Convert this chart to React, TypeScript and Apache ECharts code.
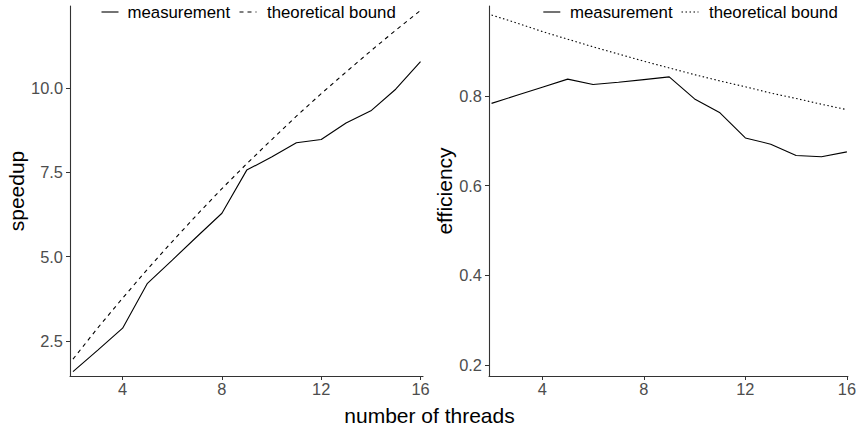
import React, { useEffect, useRef } from "react";
import * as echarts from "echarts";

const threads = [2, 3, 4, 5, 6, 7, 8, 9, 10, 11, 12, 13, 14, 15, 16];
const speedupMeasured = [1.59, 2.23, 2.88, 4.21, 4.9, 5.6, 6.29, 7.57, 7.96, 8.38, 8.48, 8.97, 9.33, 9.97, 10.79];
const speedupBound = [1.96, 2.89, 3.77, 4.63, 5.45, 6.25, 7.02, 7.76, 8.47, 9.17, 9.84, 10.48, 11.11, 11.72, 12.31];
const efficiencyMeasured = [0.783, 0.801, 0.819, 0.837, 0.825, 0.83, 0.836, 0.842, 0.793, 0.762, 0.706, 0.692, 0.667, 0.664, 0.675];
const efficiencyBound = [0.98, 0.962, 0.943, 0.926, 0.909, 0.893, 0.877, 0.862, 0.847, 0.833, 0.82, 0.806, 0.794, 0.781, 0.769];
const xTicks = [4, 8, 12, 16];
const speedupTicks = [2.5, 5.0, 7.5, 10.0];
const efficiencyTicks = [0.2, 0.4, 0.6, 0.8];
const legendNames = ["measurement", "theoretical bound"];

const FONT = "'Liberation Sans', Arial, Helvetica, sans-serif";
const AXIS_COLOR = "#333333";
const LABEL_COLOR = "#4d4d4d";
const DASHED = [4, 4];
const DOTTED = [1.5, 2.5];

function pairs(xs: number[], ys: number[]) {
  return xs.map((x, i) => [x, ys[i]]);
}

function legendItem(x: number, textX: number, dash: any, text: string) {
  return [
    {
      type: "line",
      shape: { x1: x, y1: 12, x2: x + 17, y2: 12 },
      style: { stroke: "#000", lineWidth: 1.1, lineDash: dash },
      silent: true,
    },
    {
      type: "text",
      x: textX,
      y: 12,
      style: {
        text,
        fill: "#000",
        font: `16.8px ${FONT}`,
        textVerticalAlign: "middle",
        verticalAlign: "middle",
      },
      silent: true,
    },
  ];
}

export default function App() {
  const ref = useRef<HTMLDivElement>(null);
  useEffect(() => {
    if (!ref.current) return;
    const chart = echarts.init(ref.current, undefined, { renderer: "svg" });
    const xAxisBase = (min: number, max: number, gridIndex: number) => ({
      type: "value",
      gridIndex,
      min,
      max,
      axisLine: { show: true, lineStyle: { color: AXIS_COLOR, width: 1.1 } },
      axisTick: { show: true, customValues: xTicks, length: 4, lineStyle: { color: AXIS_COLOR, width: 1 } },
      axisLabel: { customValues: xTicks, color: LABEL_COLOR, fontSize: 16.4, fontFamily: FONT, margin: 5 },
      splitLine: { show: false },
    });
    const yAxisBase = (
      min: number,
      max: number,
      gridIndex: number,
      ticks: number[],
      name: string,
      nameGap: number,
      digits: number
    ) => ({
      type: "value",
      gridIndex,
      min,
      max,
      name,
      nameLocation: "middle",
      nameGap,
      nameTextStyle: { color: "#000", fontSize: 21, fontFamily: FONT },
      axisLine: { show: true, lineStyle: { color: AXIS_COLOR, width: 1.1 } },
      axisTick: { show: true, customValues: ticks, length: 4, lineStyle: { color: AXIS_COLOR, width: 1 } },
      axisLabel: {
        customValues: ticks,
        color: LABEL_COLOR,
        fontSize: 16.4,
        fontFamily: FONT,
        margin: 7,
        formatter: (v: number) => v.toFixed(digits),
      },
      splitLine: { show: false },
    });
    const lineSeries = (name: string, idx: number, data: number[][], type: any) => ({
      type: "line",
      name,
      xAxisIndex: idx,
      yAxisIndex: idx,
      data,
      symbol: "none",
      showSymbol: false,
      lineStyle: { color: "#000", width: 1.1, type },
      itemStyle: { color: "#000" },
    });

    const makeLegend = (pos: number[][], dash: any) => {
      const els: any[] = [];
      legendNames.forEach((name, i) => {
        const [sx, tx] = pos[i];
        els.push(...legendItem(sx, tx, i === 0 ? null : dash, name));
      });
      return els;
    };

    chart.setOption({
      animation: false,
      backgroundColor: "#ffffff",
      textStyle: { fontFamily: FONT },
      title: {
        text: "number of threads",
        left: "center",
        top: 405,
        padding: 0,
        textStyle: { color: "#000", fontSize: 21, fontWeight: "normal", fontFamily: FONT },
      },
      graphic: [
        ...makeLegend(
          [
            [101.5, 127.5],
            [239.5, 267],
          ],
          DASHED
        ),
        ...makeLegend(
          [
            [543.3, 570],
            [681.5, 709],
          ],
          DOTTED
        ),
      ],
      grid: [
        { left: 70, right: 436, top: 6, bottom: 53, containLabel: false },
        { left: 489, right: 7, top: 6, bottom: 53, containLabel: false },
      ],
      xAxis: [xAxisBase(1.88, 16.1, 0), xAxisBase(1.9, 16.04, 1)],
      yAxis: [
        yAxisBase(1.46, 12.44, 0, speedupTicks, "speedup", 35, 1),
        yAxisBase(0.1755, 1.0, 1, efficiencyTicks, "efficiency", 30, 1),
      ],
      series: [
        lineSeries("measurement", 0, pairs(threads, speedupMeasured), "solid"),
        lineSeries("theoretical bound", 0, pairs(threads, speedupBound), DASHED),
        lineSeries("measurement", 1, pairs(threads, efficiencyMeasured), "solid"),
        lineSeries("theoretical bound", 1, pairs(threads, efficiencyBound), DOTTED),
      ],
    });
    return () => chart.dispose();
  }, []);
  return <div ref={ref} style={{ width: 859, height: 429, position: "absolute", left: 0, top: 0 }} />;
}
